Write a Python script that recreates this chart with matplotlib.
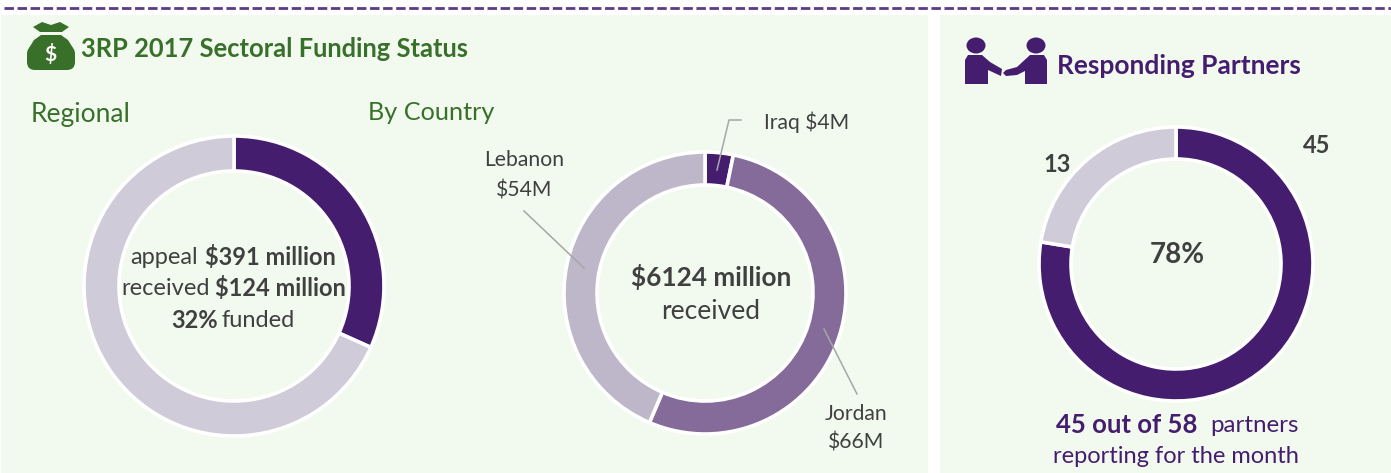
import matplotlib
matplotlib.use("Agg")
import matplotlib.pyplot as plt
from matplotlib.patches import Rectangle, Circle, Polygon, FancyBboxPatch, Ellipse

plt.rcParams['font.family'] = ['Lato', 'DejaVu Sans']

W, H = 1391, 473
PANEL = '#F2FAF0'
GREEN = '#38702A'
PURPLE = '#451D6F'
DARK = '#404040'
GREY = '#A6A6A6'

regional_labels = ['received', 'remaining']
regional_values = [124, 267]
regional_colors = ['#451D6F', '#CFCBD8']

country_labels = ['Iraq', 'Jordan', 'Lebanon']
country_values = [4, 66, 54]
country_colors = ['#451D6F', '#846B99', '#BEB6C9']

partner_labels = ['responding', 'not responding']
partner_values = [45, 13]
partner_colors = ['#451D6F', '#CFCBD8']

fig = plt.figure(figsize=(W / 100, H / 100), dpi=100, facecolor='white')
bg = fig.add_axes([0, 0, 1, 1])
bg.set_xlim(0, W)
bg.set_ylim(H, 0)
bg.axis('off')

bg.add_patch(Rectangle((1, 15), 927, 458, fc=PANEL, ec='none'))
bg.add_patch(Rectangle((940, 15), 451, 458, fc=PANEL, ec='none'))
bg.plot([4, W], [8, 8], color='#5B3A86', lw=2.0, dashes=(3.4, 1.3))


def donut(cx, cy, r_out, r_in, values, colors, edge):
    ax = fig.add_axes([(cx - r_out) / W, 1 - (cy + r_out) / H,
                       2 * r_out / W, 2 * r_out / H], zorder=2)
    ax.pie(values, colors=colors, startangle=90, counterclock=False, radius=1.0,
           wedgeprops=dict(width=1 - r_in / r_out, edgecolor=edge, linewidth=2.6))
    ax.set_xlim(-1, 1)
    ax.set_ylim(-1, 1)
    ax.set_aspect('equal')
    ax.axis('off')
    for w in ax.patches:
        w.set_clip_on(False)
    return ax


donut(234, 286, 150, 115, regional_values, regional_colors, 'white')
donut(705, 293, 141, 108, country_values, country_colors, 'white')
donut(1176, 264, 137, 105, partner_values, partner_colors, 'white')

fg = fig.add_axes([0, 0, 1, 1], zorder=3)
fg.set_xlim(0, W)
fg.set_ylim(H, 0)
fg.axis('off')


def t(x, y, s, size, color=DARK, weight='normal', ha='center'):
    fg.text(x, y + 1, s, fontsize=size, color=color, fontweight=weight, ha=ha, va='center')


# headings
t(81, 48, '3RP 2017 Sectoral Funding Status', 18.4, GREEN, 'bold', 'left')
t(31, 113, 'Regional', 19, GREEN, ha='left')
t(368, 111, 'By Country', 18.2, GREEN, ha='left')
t(1057, 65, 'Responding Partners', 19, PURPLE, 'bold', 'left')

# regional centre
t(130, 256, 'appeal', 17, ha='left')
t(205, 256, '$391 million', 17, weight='bold', ha='left')
t(121, 287, 'received', 17, ha='left')
t(215, 287, '$124 million', 17, weight='bold', ha='left')
t(171, 319, '32%', 17, weight='bold', ha='left')
t(221, 319, 'funded', 17, ha='left')

# country centre
t(711, 276, '$6124 million', 18.8, DARK, 'bold')
t(711, 310, 'received', 19, DARK)

# country labels and leaders
t(807, 121, 'Iraq $4M', 15.2)
t(524, 159, 'Lebanon', 15.2)
t(524, 189, '$54M', 15.2)
t(856, 413, 'Jordan', 15.2)
t(856, 441, '$66M', 15.2)
fg.plot([717, 729, 741], [170, 120, 120], color=GREY, lw=1.1)
fg.plot([524, 584], [211, 268], color=GREY, lw=1.1)
fg.plot([824, 857], [329, 394], color=GREY, lw=1.1)

# partners text
t(1177, 254, '78%', 20, DARK, 'bold')
t(1317, 144, '45', 17, DARK, 'bold')
t(1057, 163, '13', 17, DARK, 'bold')
t(1127, 424, '45 out of 58', 18.5, PURPLE, 'bold')
t(1254, 424, 'partners', 17.4, PURPLE)
t(1176, 455, 'reporting for the month', 17, PURPLE)

# money bag icon
fg.add_patch(FancyBboxPatch((27, 46), 48, 24, boxstyle='round,pad=0,rounding_size=8', fc=GREEN, ec='none'))
fg.add_patch(Polygon([(41, 35), (61, 35), (68, 40), (73, 48), (75, 60), (27, 60), (29, 48), (34, 40)], closed=True, fc=GREEN, ec='none'))
fg.add_patch(Polygon([(33, 27), (42, 22), (51, 25), (60, 22), (69, 27), (62, 32), (40, 32)], closed=True, fc=GREEN, ec='none'))
fg.text(50.5, 55, '$', fontsize=15, color='white', fontweight='bold', ha='center', va='center')

# handshake icon
for cx in (976, 1036):
    fg.add_patch(Ellipse((cx, 45.5), 19, 16, fc=PURPLE, ec='none'))
fg.add_patch(Polygon([(965, 84), (965, 60), (968, 55), (982, 55), (990, 62), (1002, 69), (1001, 76), (988, 70), (988, 84)],
                     closed=True, fc=PURPLE, ec='none'))
fg.add_patch(Polygon([(1047, 84), (1047, 60), (1044, 55), (1030, 55), (1017, 67), (1006, 70), (1003, 73), (1006, 76), (1017, 75), (1025, 71), (1025, 84)],
                     closed=True, fc=PURPLE, ec='none'))

fig.savefig('out.png', dpi=100, facecolor='white')
